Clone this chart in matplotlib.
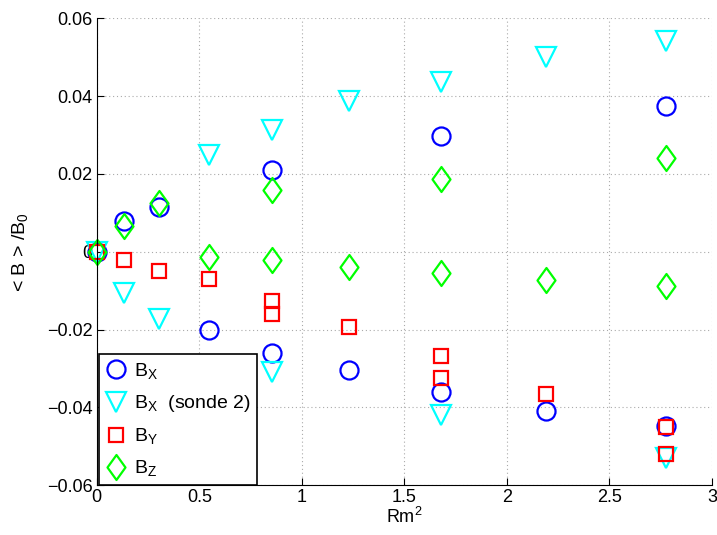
import matplotlib
matplotlib.use("Agg")
import matplotlib.pyplot as plt
from matplotlib.path import Path

plt.rcParams['font.family'] = ['Liberation Sans', 'DejaVu Sans']
plt.rcParams['mathtext.default'] = 'regular'

# Rm^2 values
bx_x = [0, 0.134, 0.305, 0.547, 0.854, 0.854, 1.232, 1.679, 1.679, 2.193, 2.776, 2.776]
bx_y = [0, 0.0080, 0.0115, -0.0201, 0.0209, -0.0261, -0.0305, 0.0298, -0.0361, -0.0408, 0.0374, -0.0449]

bx2_x = [0, 0.134, 0.305, 0.547, 0.854, 0.854, 1.232, 1.679, 1.679, 2.193, 2.776, 2.776]
bx2_y = [0, -0.0107, -0.0173, 0.0249, 0.0313, -0.0309, 0.0388, 0.0436, -0.0420, 0.0500, 0.0541, -0.0529]

by_x = [0, 0.134, 0.305, 0.547, 0.854, 0.854, 1.232, 1.679, 1.679, 2.193, 2.776, 2.776]
by_y = [0, -0.0021, -0.0049, -0.0070, -0.0126, -0.0160, -0.0194, -0.0269, -0.0325, -0.0366, -0.0450, -0.0520]

bz_x = [0, 0.134, 0.305, 0.547, 0.854, 0.854, 1.232, 1.679, 1.679, 2.193, 2.776, 2.776]
bz_y = [0, 0.0067, 0.0124, -0.0013, 0.0158, -0.0021, -0.0038, 0.0186, -0.0055, -0.0073, 0.0240, -0.0088]

labels = ['B$_{X}$', 'B$_{X}$  (sonde 2)', 'B$_{Y}$', 'B$_{Z}$']

# matlab style diamond (taller than wide)
diamond = Path([(0, 1), (0.72, 0), (0, -1), (-0.72, 0), (0, 1)],
               [Path.MOVETO, Path.LINETO, Path.LINETO, Path.LINETO, Path.CLOSEPOLY])

fig = plt.figure(figsize=(7.17, 5.35), dpi=100)
ax = fig.add_axes([0.135, 0.093, 0.858, 0.873])

kw = dict(ls='none', mfc='none', mew=1.6, clip_on=False)
ax.plot(bx_x, bx_y, marker='o', ms=13, mec='#0000ff', label=labels[0], **kw)
ax.plot(bx2_x, bx2_y, marker='v', ms=15, mec='#00ffff', label=labels[1], **kw)
ax.plot(by_x, by_y, marker='s', ms=10, mec='#ff0000', label=labels[2], **kw)
ax.plot(bz_x, bz_y, marker=diamond, ms=18, mec='#00ff00', label=labels[3], **kw)

ax.set_xlim(0, 3)
ax.set_ylim(-0.06, 0.06)
ax.set_xticks([0, 0.5, 1, 1.5, 2, 2.5, 3])
ax.set_xticklabels(['0', '0.5', '1', '1.5', '2', '2.5', '3'])
ax.set_yticks([-0.06, -0.04, -0.02, 0, 0.02, 0.04, 0.06])
ax.set_yticklabels(['\u22120.06', '\u22120.04', '\u22120.02', '0', '0.02', '0.04', '0.06'])
ax.tick_params(direction='in', labelsize=13, length=5, pad=3)
ax.grid(True, color='#aaaaaa', ls=(0, (1, 2.5)), lw=0.8)
ax.spines['top'].set_visible(False)
ax.spines['right'].set_visible(False)

ax.set_xlabel('Rm$^2$', fontsize=13, labelpad=0)
ax.set_ylabel('< B > /B$_0$', fontsize=14, labelpad=12)

leg = ax.legend(loc='lower left', bbox_to_anchor=(0.003, 0.0), borderaxespad=0,
                fontsize=14, handlelength=1.1, handletextpad=0.35, borderpad=0.35,
                labelspacing=0.62, fancybox=False, framealpha=1)
leg.get_frame().set_edgecolor('black')
leg.get_frame().set_linewidth(1.2)

fig.savefig('out.png', dpi=100)
